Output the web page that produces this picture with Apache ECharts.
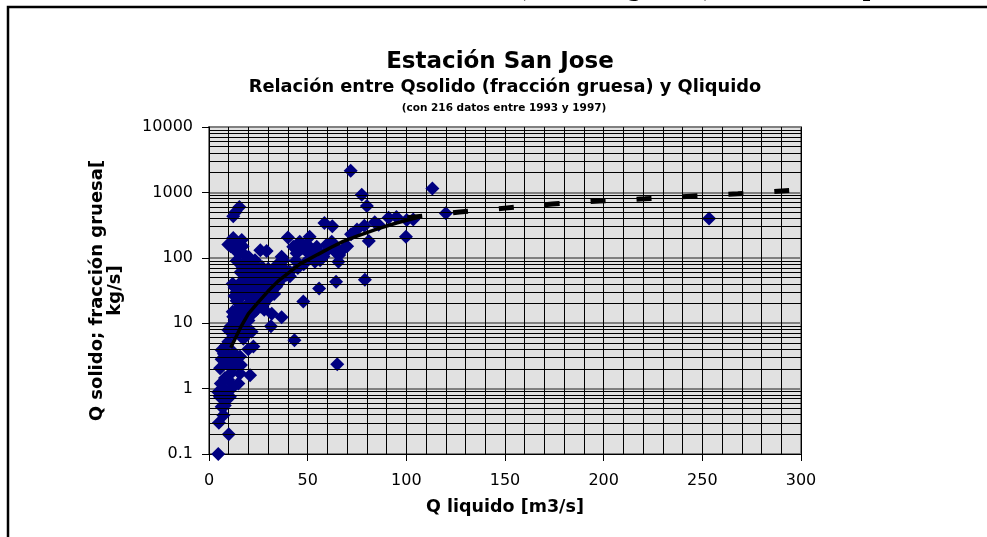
<!DOCTYPE html>
<html>
<head>
<meta charset="utf-8">
<title>Estación San Jose</title>
<script src="https://cdn.jsdelivr.net/npm/echarts@6/dist/echarts.min.js"></script>
<style>
  html, body { margin: 0; padding: 0; background: #fff; }
  #chart { width: 987px; height: 537px; }
</style>
</head>
<body>
<div id="chart"></div>
<script>
// valores: [Q liquido m3/s, Q solido kg/s]
const puntosBajos = [
  [4.7, 0.1], [10, 0.2], [5, 0.3], [7.3, 0.39], [6.4, 0.53], [8, 0.55], [8.1, 0.67],
  [5.5, 0.75], [10.6, 0.75], [4.7, 0.89], [9, 0.9], [7, 1], [12.3, 1.07], [6, 1.2],
  [14.9, 1.2], [9.8, 1.35], [8.1, 1.45], [20.8, 1.6], [15.7, 1.7], [11, 1.7], [5.6, 2.05],
  [11.5, 2.05], [16.2, 2.3], [9, 2.42], [13, 2.6], [6.4, 2.8], [10, 3], [15.7, 3.1],
  [7.5, 3.4], [12.3, 3.6], [6.4, 3.9], [19.9, 4], [22.5, 4.4], [8.5, 4.5], [9.8, 5.2],
  [17.4, 5.8], [12.3, 7.1], [19.1, 7.1], [14.9, 7.4], [21.6, 7.4], [9.8, 7.9], [11, 9],
  [18, 9], [13, 10], [20, 11], [12.3, 12.6], [15.7, 13.3], [14, 15.9]
];
const puntosNube = [
  [14, 30], [15, 38], [16, 25], [17, 45], [18, 33], [18, 55], [19, 28], [19, 42], [20, 20],
  [20, 36], [20, 62], [21, 48], [21, 30], [22, 24], [22, 40], [22, 70], [23, 34], [23, 52],
  [23, 18], [24, 28], [24, 44], [24, 60], [25, 22], [25, 36], [25, 50], [26, 30], [26, 42],
  [26, 65], [27, 26], [27, 38], [27, 55], [28, 33], [28, 46], [28, 20], [29, 40], [29, 28],
  [29, 58], [30, 35], [30, 48], [30, 24], [31, 42], [31, 30], [32, 38], [32, 52], [33, 28],
  [33, 45], [34, 36], [35, 50], [35, 40], [36, 45], [37, 55], [16, 18], [17, 14], [18, 12],
  [19, 16], [20, 13], [21, 17], [15, 20], [14, 22], [13, 35], [12, 40], [13, 26], [16, 60],
  [17, 70], [19, 75], [21, 80], [24, 75], [27, 72], [30, 68], [12, 15], [13, 11], [15, 12],
  [17, 10], [22, 14], [24, 16], [26, 18], [28, 16], [20, 26], [23, 30], [26, 25]
];
const puntosCercanos = [
  [9.8, 160], [11, 150], [12.3, 200], [13, 170], [12.3, 430], [13.5, 500], [15.4, 600],
  [16.6, 187], [17, 150], [15, 118], [14, 125], [18, 110], [14, 90], [18, 85], [20, 104],
  [23.3, 92], [26, 130], [29.2, 127]
];
const puntosMedios = [
  [31.4, 9], [31.8, 14], [36.8, 12.3], [43.3, 5.5], [47.8, 21.5], [55.8, 34], [64.4, 43],
  [65, 2.35], [79, 46], [33, 60], [34.3, 77], [36, 85], [37.7, 92], [36.8, 104], [38, 68],
  [39.4, 55], [41, 52], [41, 61], [40, 205], [42.7, 148], [44.4, 117], [44, 90], [45, 70],
  [46, 176], [47, 140], [48, 80], [49.5, 163], [50, 120], [51, 210], [51.2, 98], [52.9, 131],
  [53.7, 87], [54.6, 148], [56.3, 92], [56.3, 117], [58, 105], [59.6, 158], [60, 130],
  [62.2, 176], [63.9, 148], [64.7, 117], [65.6, 87], [66, 110], [68, 135], [70, 150],
  [58.5, 340], [62.5, 305], [72, 230], [81, 180]
];
const puntosAltos = [
  [71.8, 2150], [77.4, 920], [80, 620], [78.7, 310], [75, 270], [84, 350], [86, 320],
  [91, 410], [95, 420], [100.2, 378], [103.5, 385], [99.8, 210], [113.2, 1150], [120, 480],
  [253.4, 400]
];

// curva de ajuste (tramo con datos) y su prolongación a trazos
const curvaAjuste = [
  [11, 4.2], [13, 5.6], [16, 8.6], [20, 14], [25, 21], [30, 31], [35, 44], [40, 58], [46, 80],
  [55, 112], [62, 145], [68, 178], [75, 215], [85, 275], [95, 340], [106, 415]
];
const curvaExtrapolada = [
  [100.5, 410], [127, 500], [150, 575], [174, 665], [198, 740], [221, 800], [244, 875],
  [268, 950], [294, 1065]
];

const etiquetasX = [0, 50, 100, 150, 200, 250, 300];
const decadas = [0.1, 1, 10, 100, 1000];
const pasosMenores = [2, 3, 4, 5, 6, 7, 8, 9];

const fuente = 'DejaVu Sans';
const lineasMenoresY = [];
decadas.forEach(d => pasosMenores.forEach(p => lineasMenoresY.push(+(d * p).toPrecision(3))));

const puntos = [].concat(puntosBajos, puntosNube, puntosCercanos, puntosMedios, puntosAltos);

const chart = echarts.init(document.getElementById('chart'), null, { renderer: 'canvas' });

chart.setOption({
  animation: false,
  backgroundColor: '#ffffff',
  title: [
    {
      text: 'Estación San Jose',
      left: 495, top: 46, textAlign: 'center',
      textStyle: { fontFamily: fuente, fontWeight: 'bold', fontSize: 23, color: '#000' }
    },
    {
      text: 'Relación entre Qsolido (fracción gruesa) y Qliquido',
      left: 500, top: 73, textAlign: 'center',
      textStyle: { fontFamily: fuente, fontWeight: 'bold', fontSize: 17.8, color: '#000' }
    },
    {
      text: '(con 216 datos entre 1993 y 1997)',
      left: 499, top: 98, textAlign: 'center',
      textStyle: { fontFamily: fuente, fontWeight: 'bold', fontSize: 10.5, color: '#000' }
    }
  ],
  graphic: [
    {
      type: 'rect', silent: true,
      shape: { x: 8, y: 7, width: 1200, height: 800 },
      style: { fill: 'none', stroke: '#000', lineWidth: 2.5 }
    },
    {
      type: 'text', silent: true,
      style: {
        text: '(fracción gruesa) vs. caudal líquido',
        x: 517, y: 1.5, verticalAlign: 'bottom',
        font: 'bold 27px "Liberation Serif"', fill: '#000'
      }
    }
  ],
  grid: {
    left: 209, top: 127, width: 592, height: 327,
    show: true, backgroundColor: '#e1e1e1',
    borderColor: '#808080', borderWidth: 2
  },
  xAxis: {
    type: 'value', min: 0, max: 300, interval: 50,
    name: 'Q liquido [m3/s]', nameLocation: 'middle', nameGap: 44,
    nameTextStyle: { fontFamily: fuente, fontWeight: 'bold', fontSize: 17.5, color: '#000' },
    axisLine: { show: true, onZero: false, lineStyle: { color: '#000', width: 1 } },
    axisTick: { show: true, inside: false, length: 7, lineStyle: { color: '#000' } },
    axisLabel: {
      margin: 19, fontFamily: fuente, fontSize: 16, color: '#000',
      formatter: v => (etiquetasX.indexOf(v) >= 0 ? String(v) : '')
    },
    splitLine: { show: true, lineStyle: { color: '#000', width: 1 } },
    minorTick: { show: false, splitNumber: 5 },
    minorSplitLine: { show: true, lineStyle: { color: '#000', width: 1 } }
  },
  yAxis: {
    type: 'log', logBase: 10, min: 0.1, max: 10000,
    name: 'Q solido; fracción gruesa[\nkg/s]', nameLocation: 'middle', nameGap: 85,
    nameRotate: 90,
    nameTextStyle: {
      fontFamily: fuente, fontWeight: 'bold', fontSize: 18, lineHeight: 18,
      color: '#000', align: 'center'
    },
    axisLine: { show: true, lineStyle: { color: '#000', width: 1 } },
    axisTick: { show: true, inside: false, length: 7, lineStyle: { color: '#000' } },
    axisLabel: {
      margin: 16, fontFamily: fuente, fontSize: 16, color: '#000',
      formatter: v => String(+Number(v).toPrecision(6))
    },
    splitLine: { show: true, lineStyle: { color: '#808080', width: 2 } }
  },
  series: [
    {
      name: 'rejilla', type: 'line', data: [], silent: true, z: 1,
      markLine: {
        silent: true, symbol: ['none', 'none'], animation: false,
        label: { show: false },
        lineStyle: { color: '#000', width: 1, type: 'solid' },
        emphasis: { disabled: true },
        data: lineasMenoresY.map(v => ({ yAxis: v }))
      }
    },
    {
      name: 'datos', type: 'scatter', data: puntos, z: 2,
      symbol: 'diamond', symbolSize: 14,
      itemStyle: { color: '#000080', opacity: 1 }
    },
    {
      name: 'ajuste', type: 'line', data: curvaAjuste, z: 3,
      showSymbol: false, smooth: false, silent: true,
      lineStyle: { color: '#000', width: 3.5 }
    },
    {
      name: 'extrapolacion', type: 'line', data: curvaExtrapolada, z: 3,
      showSymbol: false, smooth: false, silent: true,
      lineStyle: { color: '#000', width: 5, type: [15, 31], cap: 'butt' }
    }
  ]
});
</script>
</body>
</html>
